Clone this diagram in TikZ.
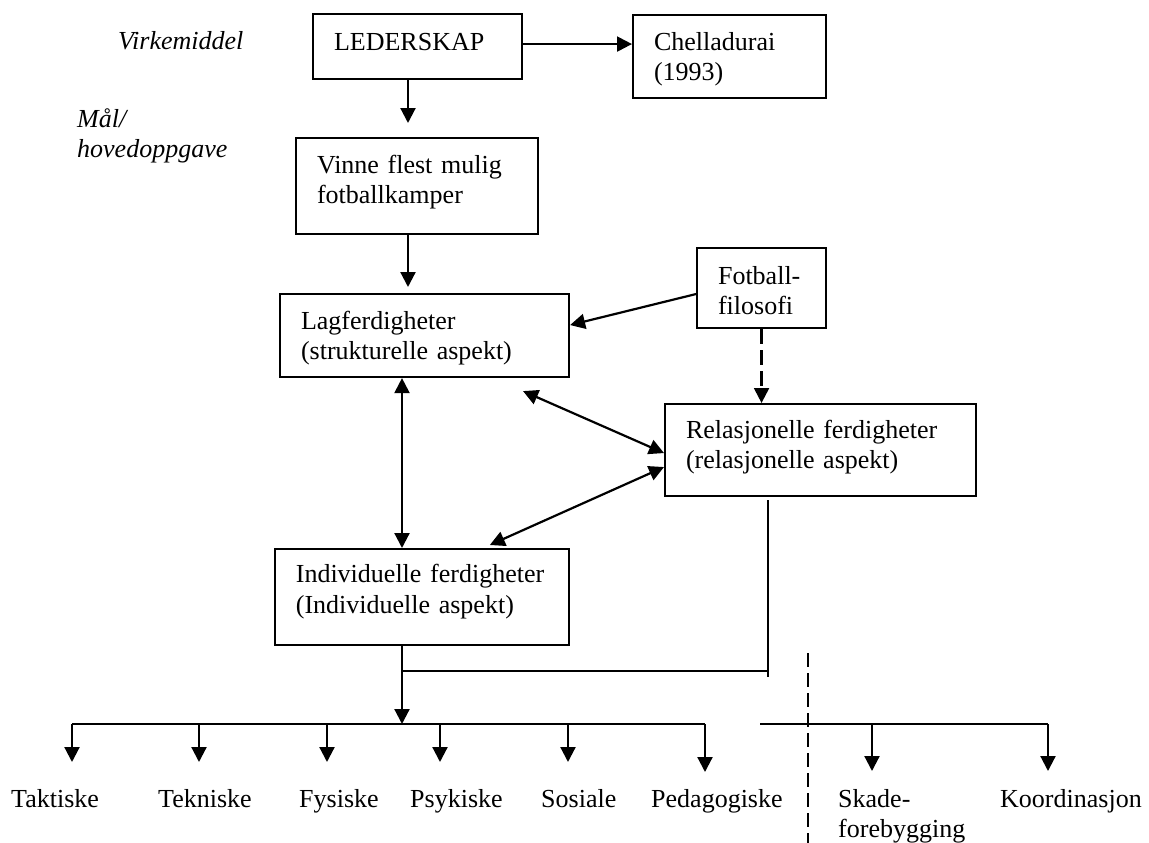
\documentclass[tikz,border=0pt]{standalone}
\usepackage{fontspec}
\setmainfont{Liberation Serif}
\usetikzlibrary{arrows.meta}
\begin{document}
\begin{tikzpicture}[x=1pt,y=1pt,
  every node/.style={font=\fontsize{26}{30.5}\selectfont},
  itl/.style={font=\fontsize{26}{30.5}\selectfont\itshape},
  box/.style={draw, line width=2.1pt, anchor=north west, inner xsep=21pt, inner ysep=0pt, align=left, text height=20pt},
  arr/.style={line width=2.2pt, -{Triangle[length=15pt,width=15pt]}},
  darr/.style={line width=2.2pt, {Triangle[length=15pt,width=15pt]}-{Triangle[length=15pt,width=15pt]}},
  thinln/.style={line width=1.5pt},
  dashln/.style={dash pattern=on 15pt off 6pt},
  lbl/.style={anchor=base west, inner sep=0pt},
]
\useasboundingbox (0,0) rectangle (1149,-843);
\fill[white] (0,0) rectangle (1149,-843);

% boxes
\node[box, minimum width=209pt, minimum height=65pt, text width=167pt, text depth=13pt] (lead) at (312,-13) {LEDERSKAP};
\node[box, minimum width=193pt, minimum height=83pt, text width=151pt, text depth=33pt] (chel) at (632,-14) {Chelladurai\\(1993)};
\node[box, minimum width=242pt, minimum height=96pt, text width=200pt, text depth=46pt] (vinne) at (295,-137) {Vinne flest mulig\\fotballkamper};
\node[box, minimum width=289pt, minimum height=83pt, text width=247pt, text depth=33pt] (lag) at (279,-293) {Lagferdigheter\\(strukturelle aspekt)};
\node[box, minimum width=129pt, minimum height=80pt, text width=87pt, text depth=28pt] (fot) at (696,-247) {Fotball-\\filosofi};
\node[box, minimum width=311pt, minimum height=92pt, text width=269pt, text depth=44pt] (rel) at (664,-403) {Relasjonelle ferdigheter\\(relasjonelle aspekt)};
\node[box, line width=1.7pt, minimum width=294pt, minimum height=96pt, text width=252pt, text depth=48pt] (ind) at (274,-548) {Individuelle ferdigheter\\(Individuelle aspekt)};

% side labels
\node[lbl, itl] (virk) at (118,-50) {Virkemiddel};
\node[lbl, itl, text width=220pt, align=left] (maal) at (77,-127) {Mål/\\hovedoppgave};

% bottom labels
\node[lbl] (tak) at (11,-807) {Taktiske};
\node[lbl] (tek) at (158,-807) {Tekniske};
\node[lbl] (fys) at (299,-807) {Fysiske};
\node[lbl] (psy) at (410,-807) {Psykiske};
\node[lbl] (sos) at (541,-807) {Sosiale};
\node[lbl] (ped) at (651,-807) {Pedagogiske};
\node[lbl, text width=150pt, align=left] (skade) at (838,-807) {Skade-\\forebygging};
\node[lbl] (koord) at (1000,-807) {Koordinasjon};

% coordinates
\coordinate (xv) at (402,0);
\coordinate (xa) at (408,0);
\coordinate (jn) at (402,-671);
\coordinate (jr) at (768,-671);
\coordinate (rtop) at (768,-500);
\coordinate (rbot) at (768,-677);
\coordinate (barL1) at (72,-724);
\coordinate (barL2) at (705,-724);
\coordinate (barR1) at (760,-724);
\coordinate (barR2) at (1048,-724);
\coordinate (dtop) at (808,-653);
\coordinate (dbot) at (808,-843);
\coordinate (t1) at (72,-762);
\coordinate (t2) at (199,-762);
\coordinate (t3) at (327,-762);
\coordinate (t4) at (440,-762);
\coordinate (t5) at (568,-762);
\coordinate (t6) at (705,-772);
\coordinate (t7) at (872,-771);
\coordinate (t8) at (1048,-771);

% connectors
\draw[arr] ([yshift=2.5pt]lead.east) -- ([yshift=2.5pt]lead.east -| chel.west);
\draw[arr, shorten >=14pt] (lead.south -| xa) -- (vinne.north -| xa);
\draw[arr, shorten >=6pt] (vinne.south -| xa) -- (lag.north -| xa);
\draw[arr] ([yshift=-6pt]fot.west) -- ([yshift=10.5pt]lag.east);
\draw[arr, dashln] (fot.south) -- (fot.south |- rel.north);
\draw[darr] ([shift={(98.5pt,-13pt)}]lag.south) -- ([yshift=-3pt]rel.west);
\draw[darr] ([yshift=-17pt]rel.west) -- ([shift={(68pt,3pt)}]ind.north);
\draw[darr] (lag.south -| xv) -- (ind.north -| xv);
\draw[arr] (ind.south -| xv) -- (xv |- barL1);
\draw[thinln] (rtop) -- (rbot);
\draw[thinln] (jn) -- (jr);
\draw[line width=2.2pt] (barL1) -- (barL2);
\draw[line width=2.2pt] (barR1) -- (barR2);
\foreach \t in {t1,t2,t3,t4,t5,t6}{\draw[arr] (\t |- barL1) -- (\t);}
\foreach \t in {t7,t8}{\draw[arr] (\t |- barR1) -- (\t);}
\draw[line width=1.5pt, dash pattern=on 14pt off 6pt] (dtop) -- (dbot);
\end{tikzpicture}
\end{document}
